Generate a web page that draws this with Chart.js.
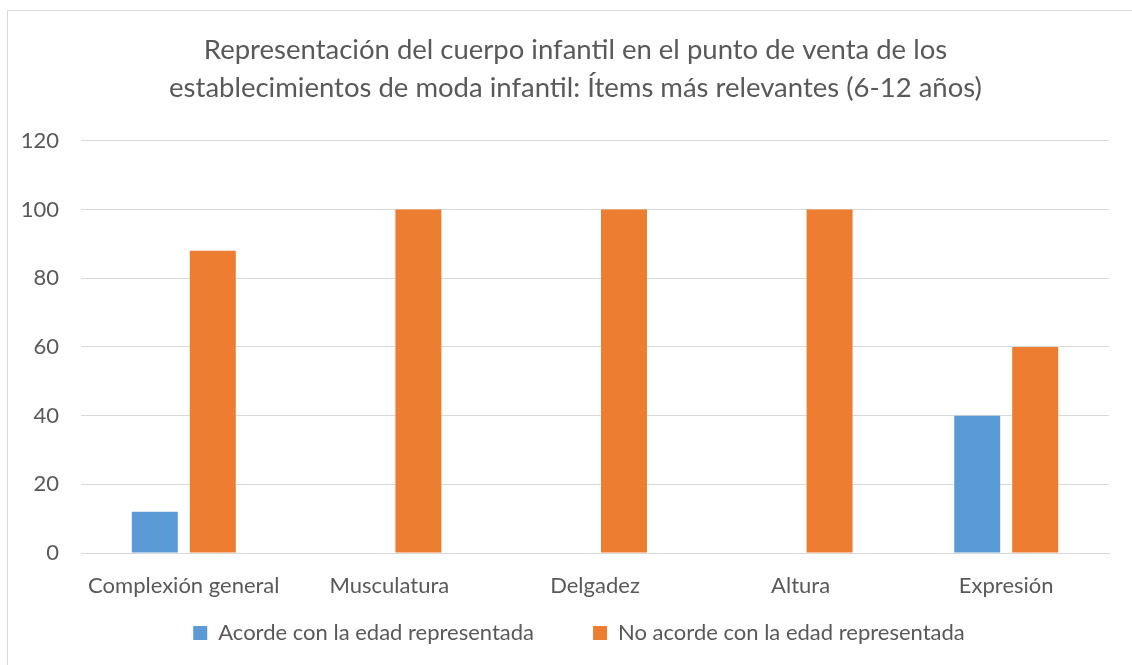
<!DOCTYPE html>
<html>
<head>
<meta charset="utf-8">
<script src="https://cdn.jsdelivr.net/npm/chart.js@4"></script>
<style>
html,body{margin:0;padding:0;background:#fff;overflow:hidden;}
#wrap{position:absolute;left:0;top:0;width:1132px;height:665px;}
#frame{position:absolute;left:7px;top:10px;width:1200px;height:800px;border:1px solid #d9d9d9;box-sizing:border-box;pointer-events:none;}
</style>
</head>
<body>
<div id="wrap"><canvas id="c" width="1132" height="665"></canvas></div>
<div id="frame"></div>
<script>
const titleLines = ["Representación del cuerpo infantil en el punto de venta de los", "establecimientos de moda infantil: Ítems más relevantes (6-12 años)"];
const categories = ["Complexión general", "Musculatura", "Delgadez", "Altura", "Expresión"];
const seriesNames = ["Acorde con la edad representada", "No acorde con la edad representada"];
const acorde = [12, 0, 0, 0, 40];
const noAcorde = [88, 100, 100, 100, 60];
const yTicks = [0, 20, 40, 60, 80, 100, 120];

const FONT = "Lato, 'Open Sans', sans-serif";
const GREY = "#595959";

// layout tweaks: legend gap above items, horizontal centring of title/legend
const tweak = {
  id: 'tweak',
  beforeLayout(chart) {
    const lg = chart.legend;
    if (lg && !lg._patched) {
      const proto = Object.getPrototypeOf(lg);
      lg.fit = function () { proto.fit.call(this); this.height -= 35; };
      lg._patched = true;
    }
  },
  afterLayout(chart) {
    const lg = chart.legend;
    if (lg) { lg.top -= 36; lg.left += 19.5; lg.right += 19.5; }
    const tb = chart.titleBlock;
    if (tb) { tb.left += 16; tb.right += 16; }
  }
};

new Chart(document.getElementById('c'), {
  type: 'bar',
  data: {
    labels: categories,
    datasets: [
      { label: seriesNames[0], data: acorde, backgroundColor: '#5b9bd5', categoryPercentage: 0.564, barPercentage: 0.793 },
      { label: seriesNames[1], data: noAcorde, backgroundColor: '#ed7d31', categoryPercentage: 0.564, barPercentage: 0.793 }
    ]
  },
  plugins: [tweak],
  options: {
    responsive: false,
    animation: false,
    layout: { padding: { left: 10, right: 23, top: 20, bottom: 10 } },
    plugins: {
      title: {
        display: true,
        text: titleLines,
        color: GREY,
        font: { family: FONT, size: 27.5, weight: 'normal', lineHeight: 1.38 },
        padding: { top: 11, bottom: 34 }
      },
      legend: {
        position: 'bottom',
        labels: {
          color: GREY,
          font: { family: FONT, size: 22 },
          boxWidth: 14,
          boxHeight: 14,
          padding: 59
        }
      },
      tooltip: { enabled: false }
    },
    scales: {
      x: {
        afterFit: (s) => { s.height = 46; },
        grid: { display: false, drawTicks: false },
        border: { color: '#d9d9d9', width: 1 },
        ticks: { color: GREY, font: { family: FONT, size: 22 }, padding: 20 }
      },
      y: {
        min: 0, max: 120,
        afterBuildTicks: (s) => { s.ticks = yTicks.map(v => ({ value: v })); },
        afterFit: (s) => { s.width = 71; },
        grid: { color: '#d9d9d9', lineWidth: 1, drawTicks: false },
        border: { display: false },
        ticks: { color: GREY, font: { family: FONT, size: 22 }, padding: 22 }
      }
    }
  }
});
</script>
</body>
</html>
